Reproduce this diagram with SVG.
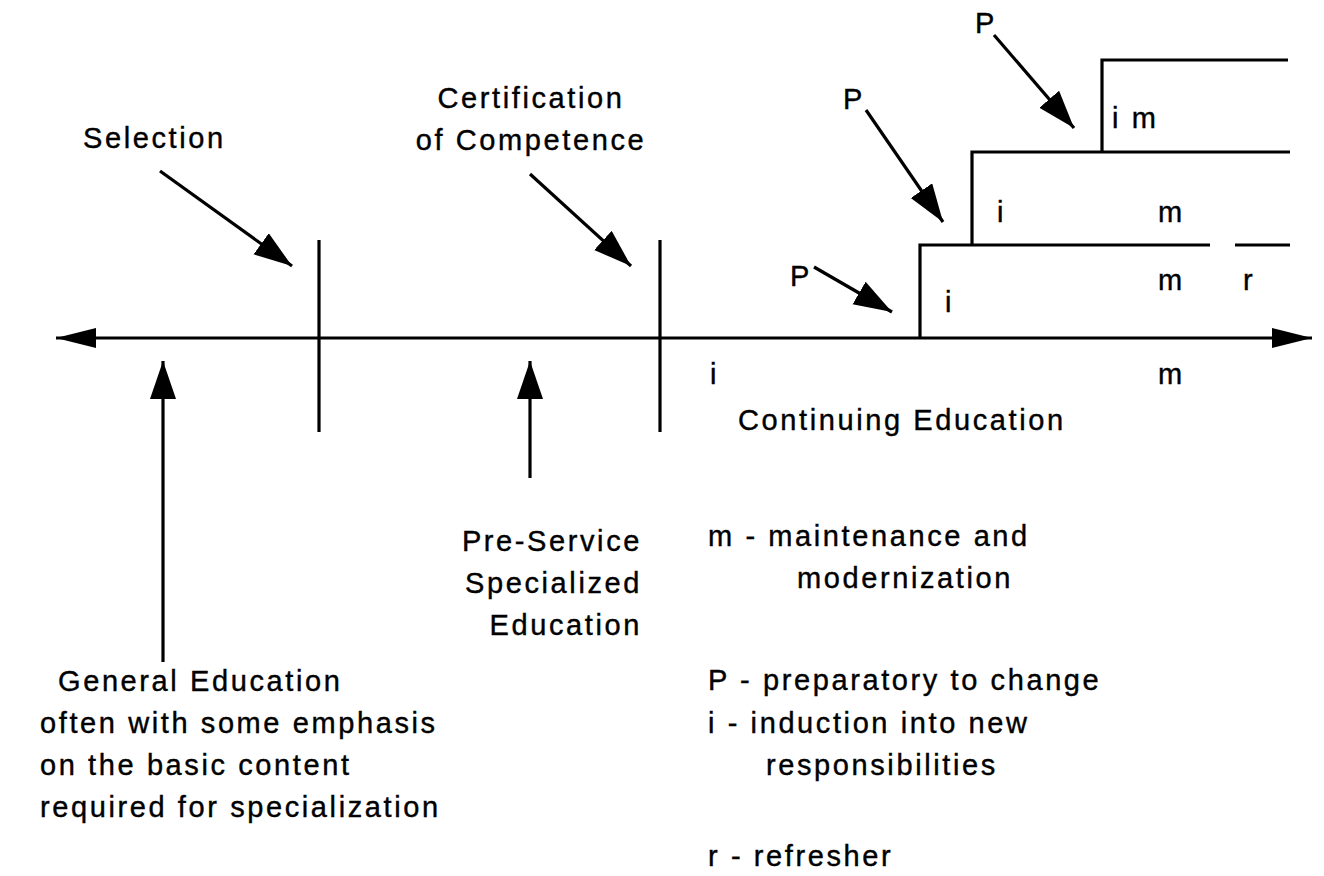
<svg xmlns="http://www.w3.org/2000/svg" width="1324" height="876" viewBox="0 0 1324 876">
<style>
.t{font-family:"Liberation Sans",Arial,sans-serif;font-size:29px;letter-spacing:2.6px;fill:#000;stroke:#000;stroke-width:0.4}
.ln{stroke:#000;stroke-width:3.2;fill:none}
</style>
<defs>
<marker id="ah" markerUnits="userSpaceOnUse" markerWidth="44" markerHeight="30" refX="38" refY="13" orient="auto">
<path d="M0,0 L38,13 L0,26 Z" fill="#000"/>
</marker>
<marker id="ahs" markerUnits="userSpaceOnUse" markerWidth="44" markerHeight="24" refX="40" refY="10" orient="auto">
<path d="M0,0 L40,10 L0,20 Z" fill="#000"/>
</marker>
</defs>
<rect width="1324" height="876" fill="#fff"/>
<g id="connectors">
<line class="ln" x1="700" y1="338" x2="56" y2="338" marker-end="url(#ahs)"/>
<line class="ln" x1="700" y1="338" x2="1312" y2="338" marker-end="url(#ahs)"/>
<line class="ln" x1="160" y1="171" x2="292" y2="266" marker-end="url(#ah)"/>
<line class="ln" x1="530" y1="174" x2="631" y2="266" marker-end="url(#ah)"/>
<line class="ln" x1="163" y1="662" x2="163" y2="361" marker-end="url(#ah)"/>
<line class="ln" x1="530" y1="478" x2="530" y2="361" marker-end="url(#ah)"/>
<line class="ln" x1="814" y1="267" x2="892" y2="312" marker-end="url(#ah)"/>
<line class="ln" x1="866" y1="110" x2="943" y2="222" marker-end="url(#ah)"/>
<line class="ln" x1="994" y1="35" x2="1074" y2="128" marker-end="url(#ah)"/>
</g>
<g id="ticks">
<line class="ln" x1="319" y1="240" x2="319" y2="432"/>
<line class="ln" x1="660" y1="240" x2="660" y2="432"/>
</g>
<g id="steps">
<path class="ln" d="M920,338 V245 H1210"/>
<path class="ln" d="M1235,245 H1290"/>
<path class="ln" d="M972,245 V152 H1290"/>
<path class="ln" d="M1102,152 V60 H1288"/>
</g>
<g id="step-labels">
<text class="t" x="790" y="286">P</text>
<text class="t" x="843" y="109">P</text>
<text class="t" x="975" y="33">P</text>
<text class="t" x="1112" y="128">i m</text>
<text class="t" x="997" y="222">i</text>
<text class="t" x="1158" y="222">m</text>
<text class="t" x="1158" y="290">m</text>
<text class="t" x="1243" y="290">r</text>
<text class="t" x="945" y="312">i</text>
<text class="t" x="710" y="384">i</text>
<text class="t" x="1158" y="384">m</text>
</g>
<g id="selection"><text class="t" x="83" y="148">Selection</text></g>
<g id="certification">
<text class="t" x="531" y="108" text-anchor="middle">Certification</text>
<text class="t" x="531" y="150" text-anchor="middle">of Competence</text>
</g>
<g id="continuing"><text class="t" x="738" y="430" letter-spacing="3">Continuing Education</text></g>
<g id="preservice">
<text class="t" x="642" y="551" text-anchor="end">Pre-Service</text>
<text class="t" x="642" y="593" text-anchor="end">Specialized</text>
<text class="t" x="642" y="635" text-anchor="end">Education</text>
</g>
<g id="general">
<text class="t" x="58" y="691">General Education</text>
<text class="t" x="40" y="733">often with some emphasis</text>
<text class="t" x="40" y="775">on the basic content</text>
<text class="t" x="40" y="817">required for specialization</text>
</g>
<g id="legend">
<text class="t" x="708" y="546">m - maintenance and</text>
<text class="t" x="797" y="588">modernization</text>
<text class="t" x="708" y="690">P - preparatory to change</text>
<text class="t" x="708" y="733">i - induction into new</text>
<text class="t" x="766" y="775">responsibilities</text>
<text class="t" x="708" y="866">r - refresher</text>
</g>
</svg>
